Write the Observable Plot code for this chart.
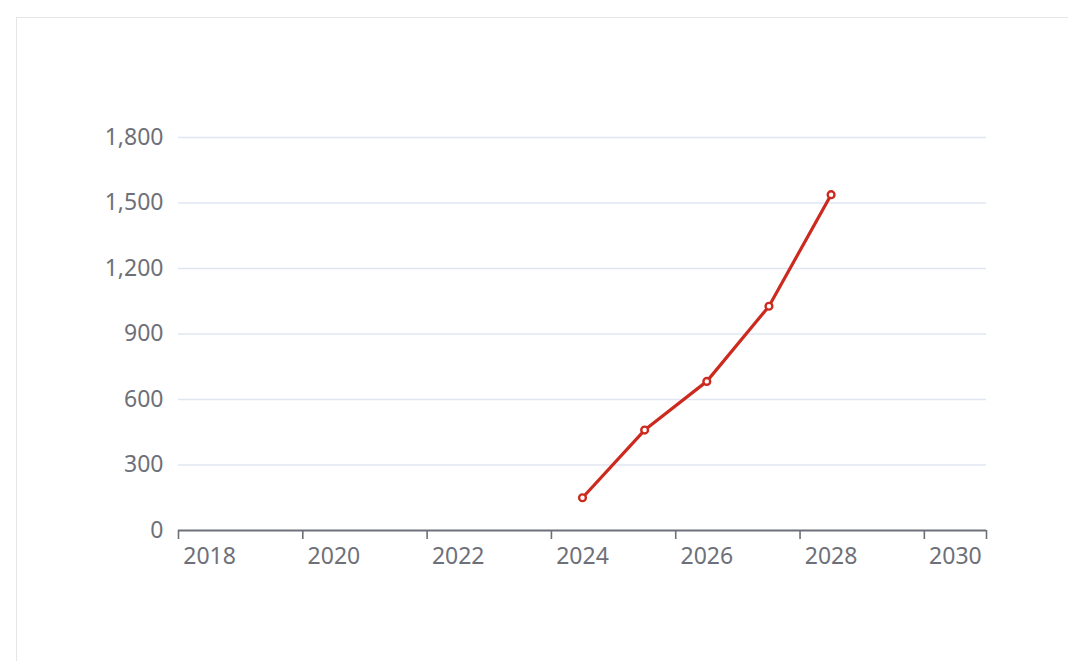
<!DOCTYPE html>
<html>
<head>
<meta charset="utf-8">
<script src="https://cdn.jsdelivr.net/npm/d3@7"></script>
<script src="https://cdn.jsdelivr.net/npm/@observablehq/plot@0.6"></script>
<style>
  html, body { margin: 0; padding: 0; background: #ffffff; }
  body { width: 1068px; height: 661px; position: relative; overflow: hidden; }
  #frame { position: absolute; left: 16px; top: 17px; width: 1200px; height: 800px; border: 1px solid #e6e6e6; box-sizing: border-box; }
  #chart { position: absolute; left: 0; top: 0; }
</style>
</head>
<body>
<div id="frame"></div>
<div id="chart"></div>
<script>
// Data
const years = [2024, 2025, 2026, 2027, 2028];
const values = [150, 460, 683, 1027, 1538];
const xLabelYears = [2018, 2020, 2022, 2024, 2026, 2028, 2030];
const xBoundaryTicks = [2017.5, 2019.5, 2021.5, 2023.5, 2025.5, 2027.5, 2029.5, 2030.5];
const yTicks = [0, 300, 600, 900, 1200, 1500, 1800];

const data = years.map((y, i) => ({year: y, value: values[i]}));

const labelColor = "#6E7079";
const gridColor = "#E0E6F1";
const lineColor = "#cd2a1f";
const font = "'Noto Sans', 'Open Sans', sans-serif";

const chart = Plot.plot({
  width: 1068,
  height: 661,
  marginLeft: 178,
  marginRight: 82,
  marginTop: 137,
  marginBottom: 131,
  style: {fontFamily: font, fontSize: "23px", color: labelColor, background: "transparent", overflow: "visible"},
  x: {domain: [2017.5, 2030.5], axis: null},
  y: {domain: [0, 1800], axis: null},
  marks: [
    Plot.ruleY(yTicks.filter(d => d > 0), {stroke: gridColor, strokeWidth: 1.5}),
    Plot.axisY({ticks: yTicks, tickSize: 0, tickPadding: 15, tickFormat: d3.format(","), fill: labelColor, fontSize: 23, label: null}),
    Plot.ruleY([0], {stroke: labelColor, strokeWidth: 1.8}),
    Plot.axisX({ticks: xBoundaryTicks, tickSize: 9, tickFormat: () => "", stroke: labelColor, strokeWidth: 1.6, label: null}),
    Plot.axisX({ticks: xLabelYears, tickSize: 0, tickPadding: 17, tickFormat: d => String(d), fill: labelColor, fontSize: 23, label: null}),
    Plot.line(data, {x: "year", y: "value", stroke: lineColor, strokeWidth: 3.2, strokeLinejoin: "round"}),
    Plot.dot(data, {x: "year", y: "value", r: 3.4, stroke: lineColor, strokeWidth: 2.4, fill: "#ffffff"})
  ]
});
document.getElementById("chart").appendChild(chart);
</script>
</body>
</html>
